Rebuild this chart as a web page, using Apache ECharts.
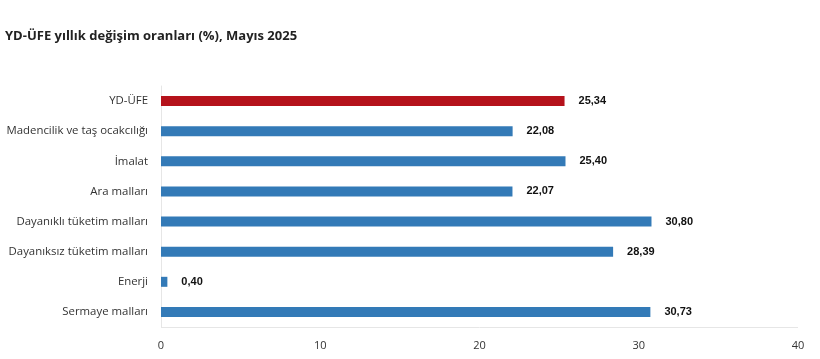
<!DOCTYPE html>
<html><head><meta charset="utf-8">
<script src="https://cdn.jsdelivr.net/npm/echarts@6/dist/echarts.min.js"></script>
<style>html,body{margin:0;padding:0;background:#fff}#c{width:820px;height:359px}</style>
</head><body><div id="c"></div>
<script>
const titleText = "YD-ÜFE yıllık değişim oranları (%), Mayıs 2025";
const categories = ["YD-ÜFE","Madencilik ve taş ocakcılığı","İmalat","Ara malları","Dayanıklı tüketim malları","Dayanıksız tüketim malları","Enerji","Sermaye malları"];
const values = [25.34, 22.08, 25.40, 22.07, 30.80, 28.39, 0.40, 30.73];
const colors = ["#b5121b","#337ab7","#337ab7","#337ab7","#337ab7","#337ab7","#337ab7","#337ab7"];
const xTicks = [0, 10, 20, 30, 40];

const chart = echarts.init(document.getElementById('c'), null, {renderer:'canvas'});
chart.setOption({
  animation:false,
  title:{text:titleText,left:0,top:25,textStyle:{fontFamily:"Open Sans",fontWeight:'bold',fontSize:13,color:'#222'}},
  grid:{left:161,right:22,top:86,bottom:32,containLabel:false,show:false},
  xAxis:{type:'value',min:xTicks[0],max:xTicks[xTicks.length-1],interval:10,
    axisLine:{show:false},axisTick:{show:false},splitLine:{show:false},
    axisLabel:{fontFamily:"Open Sans",fontSize:11,color:'#333',margin:13}},
  yAxis:{type:'category',inverse:true,data:categories,
    axisLine:{show:true,lineStyle:{color:'#e6e6e6'}},axisTick:{show:false},
    axisLabel:{fontFamily:"Open Sans",fontSize:11.4,color:'#333',margin:13}},
  series:[{type:'bar',barWidth:10,
    data:values.map((v,i)=>({value:v,itemStyle:{color:colors[i]}})),
    label:{show:true,position:'right',distance:14,fontFamily:"Liberation Sans",fontWeight:'bold',fontSize:11,color:'#111',
      formatter:p=>p.value.toFixed(2).replace('.',',')}},
  {type:'line',data:[],markLine:{silent:true,symbol:'none',label:{show:false},lineStyle:{color:'#e6e6e6',type:'solid',width:1},data:[[{coord:[0,7],y:327},{x:798,y:327}]]}}]
});
</script></body></html>
